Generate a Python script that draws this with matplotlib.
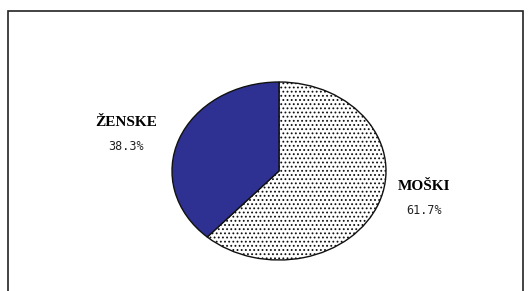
import matplotlib.pyplot as plt
from matplotlib.patches import Rectangle

labels = ['MOŠKI', 'ŽENSKE']
shares = [61.7, 38.3]
colors = ['white', '#2e3192']
hatches = ['....', '']

W, H = 531, 291
fig = plt.figure(figsize=(W / 100, H / 100), dpi=100)

# outer frame (bottom edge runs off the image)
fig.patches.append(Rectangle((8 / W, -0.05), (523 - 8) / W, (H - 11) / H + 0.05,
                             transform=fig.transFigure, fill=False,
                             edgecolor='#222222', linewidth=1.2))

# elliptical pie: centre (279, 171), half-axes 107 x 89 px
cx, cy, rx, ry = 279, 171, 107, 89
ax = fig.add_axes([(cx - rx) / W, (H - cy - ry) / H, 2 * rx / W, 2 * ry / H])
plt.rcParams['hatch.color'] = '#555566'
plt.rcParams['hatch.linewidth'] = 0.8
wedges, _ = ax.pie(shares, colors=colors, startangle=90, counterclock=False,
                   wedgeprops=dict(edgecolor='#111111', linewidth=1.0))
for w, h in zip(wedges, hatches):
    w.set_hatch(h)
ax.set_aspect('auto')
ax.set_xlim(-1, 1)
ax.set_ylim(-1, 1)
ax.axis('off')

# labels (pixel positions on the figure)
label_pos = [(424, 186, 210), (126, 122, 147)]
for lab, val, (x, y1, y2) in zip(labels, shares, label_pos):
    fig.text(x / W, 1 - y1 / H, lab, ha='center', va='center',
             family='Liberation Serif', fontweight='bold', fontsize=11)
    fig.text(x / W, 1 - y2 / H, f'{val:.1f}%', ha='center', va='center',
             family='DejaVu Sans Mono', fontsize=8.5, color='#222222')

fig.savefig('out.png', dpi=100)
